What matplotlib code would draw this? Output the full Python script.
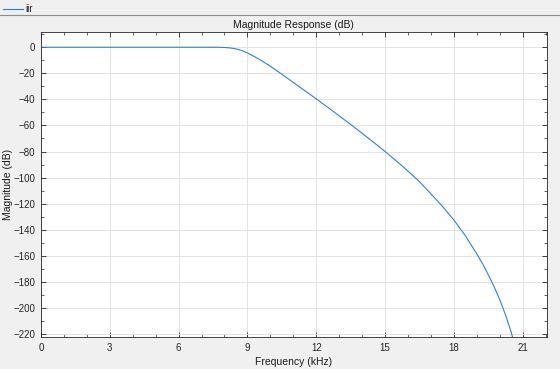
import matplotlib
matplotlib.use('Agg')
import matplotlib.pyplot as plt
from matplotlib.lines import Line2D
from matplotlib.ticker import MultipleLocator

# magnitude response
freq_khz = [0, 2, 4, 6, 7, 7.5, 7.8, 8.0, 8.2, 8.4, 8.6, 8.8, 9.0, 9.25, 9.5,
            9.75, 10.0, 10.5, 11.0, 11.5, 12.0, 12.5, 13.0, 13.5, 14.0, 14.5,
            15.0, 15.5, 16.0, 16.5, 17.0, 17.5, 18.0, 18.5, 19.0, 19.25, 19.5,
            19.75, 20.0, 20.25, 20.5, 20.7]
mag_db = [0, 0, 0, 0, 0, 0, -0.05, -0.2, -0.45, -0.9, -1.7, -2.8, -4.4, -6.6,
          -9.1, -11.8, -14.6, -20.7, -27.0, -33.3, -39.6, -46.0, -52.6, -59.2,
          -66.0, -72.9, -80.0, -87.3, -95.0, -103.1, -112.5, -122.0, -132.5,
          -144.5, -158.5, -166.0, -174.5, -183.5, -193.5, -205.2, -218.5, -232]
series_name = 'iir'

x_ticks = [0, 3, 6, 9, 12, 15, 18, 21]
y_ticks = list(range(-220, 1, 20))

plt.rcParams['font.family'] = ['Liberation Sans', 'DejaVu Sans']

bg = '#f0f0f0'
fig = plt.figure(figsize=(5.6, 3.69), dpi=100, facecolor=bg)
ax = fig.add_axes([0.0732, 0.0867, 0.9031, 0.8266])
ax.set_facecolor('white')

ax.plot(freq_khz, mag_db, color='#2b82d0', linewidth=0.8)

ax.set_xlim(0, 22.05)
ax.set_ylim(-222.3, 11.7)
ax.set_xticks(x_ticks)
ax.set_yticks(y_ticks)
ax.xaxis.set_minor_locator(MultipleLocator(1))
ax.yaxis.set_minor_locator(MultipleLocator(10))
ax.tick_params(which='both', direction='in', top=True, right=True,
               labelsize=7, colors='#262626', pad=4)
ax.tick_params(which='major', length=3.5, width=0.6)
ax.tick_params(which='minor', length=2, width=0.5)
ax.grid(True, which='major', color='#e3e3e3', linewidth=0.7)
ax.set_axisbelow(True)
for s in ax.spines.values():
    s.set_color('#262626')
    s.set_linewidth(0.6)

ax.set_title('Magnitude Response (dB)', fontsize=7.5, color='#1a1a1a', pad=3)
ax.set_xlabel('Frequency (kHz)', fontsize=7.5, color='#1a1a1a', labelpad=3)
ax.set_ylabel('Magnitude (dB)', fontsize=7.5, color='#1a1a1a', labelpad=0)

# legend strip at the top
fig.add_artist(Line2D([0, 1], [0.9593, 0.9593], transform=fig.transFigure,
                      color='#8c8c8c', linewidth=0.8))
fig.add_artist(Line2D([3 / 560, 23 / 560], [0.976, 0.976], transform=fig.transFigure,
                      color='#2b82d0', linewidth=0.8))
fig.text(25 / 560, 0.976, series_name, fontsize=7, color='#1a1a1a', va='center')

fig.savefig('out.png', dpi=100, facecolor=bg)
